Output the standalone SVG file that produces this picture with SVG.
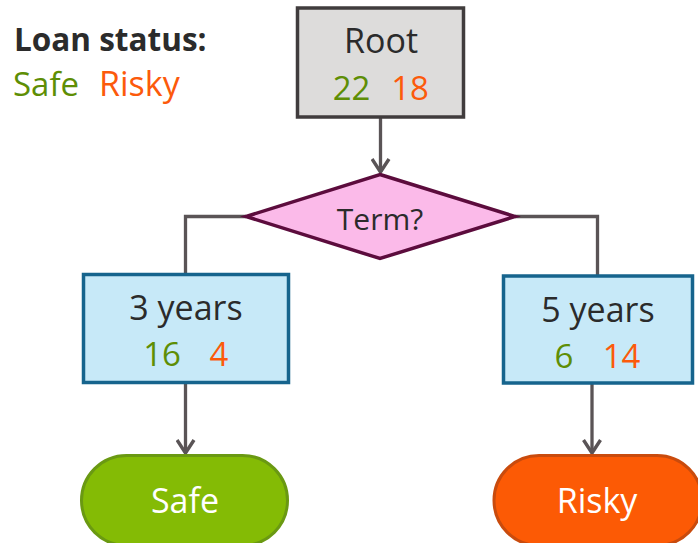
<svg xmlns="http://www.w3.org/2000/svg" width="698" height="543" viewBox="0 0 698 543">
<style>
text{font-family:"Open Sans","Liberation Sans",sans-serif;font-size:33px;text-anchor:middle;fill:#2b2b2b}
.g{fill:#5e8e05}
.o{fill:#fc5a0b}
.w{fill:#ffffff}
.conn{fill:none;stroke:#5a5456;stroke-width:3.3}
</style>
<defs>
<marker id="arr" markerUnits="userSpaceOnUse" viewBox="0 0 16 20" markerWidth="16" markerHeight="20" refX="14" refY="10" orient="auto">
<path d="M1,1.5 L14,10 L1,18.5" fill="none" stroke="#5a5456" stroke-width="3.4" stroke-linejoin="round"/>
</marker>
</defs>
<g id="legend">
<text x="14" y="51" style="text-anchor:start;font-weight:bold;font-size:31.5px">Loan status:</text>
<text x="13" y="96" class="g" style="text-anchor:start;font-size:33px">Safe</text>
<text x="99" y="96" class="o" style="text-anchor:start;font-size:34px">Risky</text>
</g>
<g id="connectors">
<path class="conn" d="M380.5,118 L380.5,172" marker-end="url(#arr)"/>
<path class="conn" d="M246,216.5 L185.5,216.5 L185.5,274"/>
<path class="conn" d="M515,216.5 L597.5,216.5 L597.5,275"/>
<path class="conn" d="M185.5,384 L185.5,453" marker-end="url(#arr)"/>
<path class="conn" d="M592,384 L592,453" marker-end="url(#arr)"/>
</g>
<g id="root">
<rect x="297.5" y="8" width="166" height="109" fill="#dddcdb" stroke="#403c3d" stroke-width="3.5"/>
<text x="381" y="53" style="font-size:34px">Root</text>
<text x="351.5" y="100" class="g">22</text>
<text x="410" y="100" class="o">18</text>
</g>
<g id="term">
<polygon points="380,174.5 515,216.5 380,258.5 246,216.5" fill="#fbbae9" stroke="#5c0c3d" stroke-width="3.5"/>
<text x="380" y="230" style="font-size:30px">Term?</text>
</g>
<g id="three-years">
<rect x="83.5" y="274.5" width="205" height="108" fill="#c7e9f8" stroke="#16648d" stroke-width="3.5"/>
<text x="186" y="320" style="font-size:34px">3 years</text>
<text x="162" y="366" class="g">16</text>
<text x="219" y="366" class="o">4</text>
</g>
<g id="five-years">
<rect x="503.5" y="276" width="189" height="107" fill="#c7e9f8" stroke="#16648d" stroke-width="3.5"/>
<text x="598" y="322" style="font-size:34px">5 years</text>
<text x="564" y="368" class="g">6</text>
<text x="621.5" y="368" class="o">14</text>
</g>
<g id="safe">
<rect x="81.5" y="455.5" width="206" height="90" rx="45" ry="45" fill="#84bb05" stroke="#6a9912" stroke-width="3"/>
<text x="185" y="513" class="w" style="font-size:34px">Safe</text>
</g>
<g id="risky">
<rect x="494" y="455.5" width="208" height="90" rx="45" ry="45" fill="#fc5a05" stroke="#c94b0d" stroke-width="3"/>
<text x="597" y="513" class="w" style="font-size:34px">Risky</text>
</g>
</svg>
